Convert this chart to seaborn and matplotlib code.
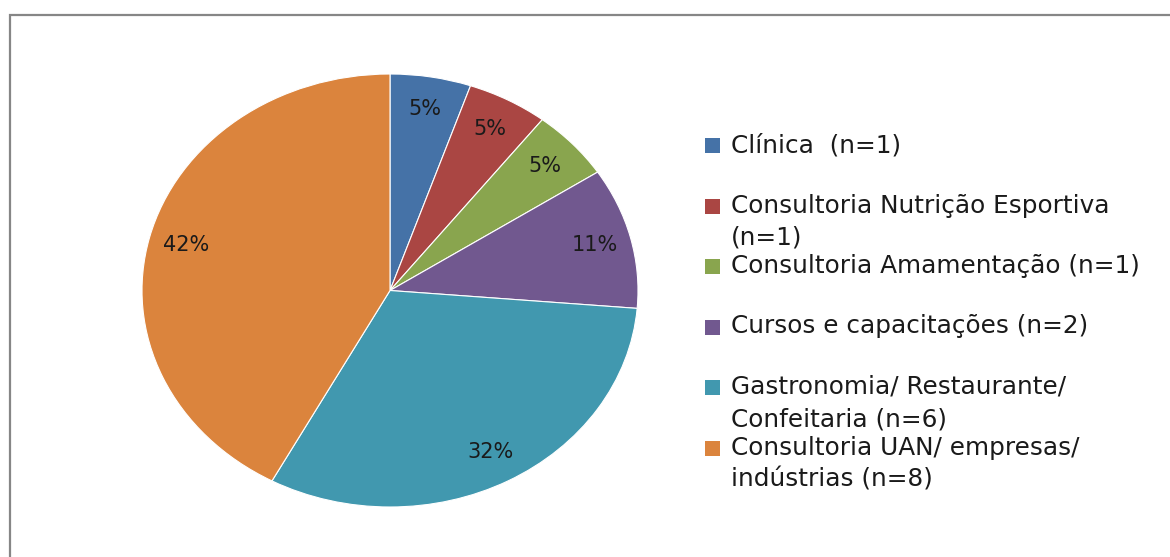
import matplotlib
matplotlib.use("Agg")
import matplotlib.pyplot as plt
import seaborn as sns
from matplotlib.patches import Rectangle

# dados
categorias = [
    "Clínica  (n=1)",
    "Consultoria Nutrição Esportiva\n(n=1)",
    "Consultoria Amamentação (n=1)",
    "Cursos e capacitações (n=2)",
    "Gastronomia/ Restaurante/\nConfeitaria (n=6)",
    "Consultoria UAN/ empresas/\nindústrias (n=8)",
]
contagens = [1, 1, 1, 2, 6, 8]
cores = ["#4572A7", "#AA4643", "#89A54E", "#71588F", "#4198AF", "#DB843D"]

sns.set_theme(style="white")
plt.rcParams['font.family'] = ['DejaVu Sans']
paleta = sns.color_palette(cores)

W, H = 1170, 557
fig = plt.figure(figsize=(W / 100, H / 100), dpi=100)

# pizza (elíptica, como no Excel)
ax = fig.add_axes([142 / W, 1 - 507 / H, 496 / W, 433 / H])
wedges, texts, autotexts = ax.pie(
    contagens, colors=paleta, startangle=90, counterclock=False,
    autopct=lambda p: f"{p:.0f}%", pctdistance=0.85,
    wedgeprops=dict(edgecolor="white", linewidth=0.8),
    textprops=dict(fontsize=15, color="#1a1a1a"))
ax.set_aspect("auto")
ax.set_xlim(-1, 1)
ax.set_ylim(-1, 1)

# legenda manual, espaçamento fixo como no original
y0 = 145
passo = 60.5
linha = 32
for i, (rot, cor) in enumerate(zip(categorias, paleta)):
    yc = y0 + i * passo
    fig.add_artist(Rectangle((705 / W, 1 - (yc + 8) / H), 15 / W, 15 / H,
                             transform=fig.transFigure, facecolor=cor,
                             edgecolor="none"))
    for j, parte in enumerate(rot.split("\n")):
        fig.text(731 / W, 1 - (yc + j * linha) / H, parte, fontsize=17.8,
                 color="#1a1a1a", va="center", ha="left")

# moldura cinza (só topo e esquerda visíveis)
fig.add_artist(Rectangle((9.5 / W, -0.5), 2, 1 - 14.5 / H + 0.5,
                         transform=fig.transFigure, fill=False,
                         edgecolor="#868686", linewidth=1.6))

fig.savefig("out.png", dpi=100, facecolor="white")
